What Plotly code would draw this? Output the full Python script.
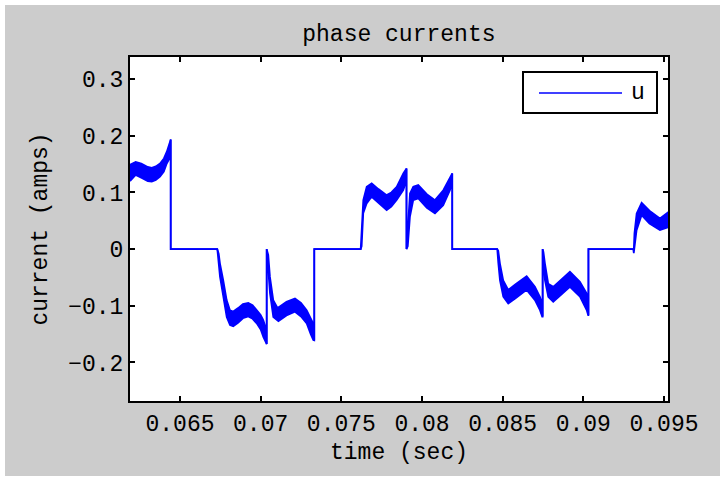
import plotly.graph_objects as go

# ---- data (time in s, current in A) ----
# upper / lower envelope of the PWM-ripple band; equal where the trace is a single line
t = [
    0.06190, 0.06225, 0.06260, 0.06300, 0.06325, 0.06350, 0.06376, 0.06400, 0.06418, 0.06435, 0.064423,
    0.064423, 0.067311,
    0.067400, 0.067478, 0.067683, 0.067893, 0.068098, 0.068300, 0.068600, 0.068900, 0.069232, 0.069500,
    0.069753, 0.070000, 0.070162, 0.070330, 0.070373,
    0.070373, 0.070472, 0.070577, 0.070782, 0.071011, 0.071100, 0.071600, 0.072127, 0.072500, 0.072852,
    0.073100, 0.073261, 0.073323,
    0.073323, 0.076199,
    0.076260, 0.076360, 0.076571, 0.076881, 0.077300, 0.077810, 0.078100, 0.078430, 0.078839, 0.079000,
    0.079040,
    0.079040, 0.079120, 0.079254, 0.079459, 0.079769, 0.080300, 0.080804, 0.081318, 0.081734, 0.081839,
    0.081876,
    0.081876, 0.084665,
    0.084730, 0.084833, 0.085037, 0.085347, 0.085800, 0.086488, 0.087002, 0.087312, 0.087450, 0.087479,
    0.087479, 0.087530, 0.087622, 0.087826, 0.088136, 0.088600, 0.089171, 0.089791, 0.090206, 0.090300,
    0.090318,
    0.090318, 0.093094,
    0.093130, 0.093169, 0.093305, 0.093615, 0.094100, 0.094749, 0.095300,
]
i_hi = [
    0.149, 0.154, 0.151, 0.145, 0.1435, 0.146, 0.151, 0.160, 0.172, 0.186, 0.1935,
    0.0, 0.0,
    -0.008, -0.025, -0.055, -0.090, -0.108, -0.110, -0.104, -0.097, -0.0947, -0.099,
    -0.1076, -0.116, -0.125, -0.140, -0.1676,
    0.0, -0.010, -0.049, -0.090, -0.102, -0.103, -0.093, -0.087, -0.095, -0.1076,
    -0.122, -0.131, -0.161,
    0.0, 0.0,
    0.037, 0.0865, 0.110, 0.116, 0.106, 0.0953, 0.100, 0.110, 0.1336, 0.1424,
    0.1424,
    0.0, 0.045, 0.098, 0.110, 0.113, 0.097, 0.0865, 0.104, 0.1276, 0.1336,
    0.1336,
    0.0, 0.0,
    -0.003, -0.025, -0.055, -0.072, -0.062, -0.0476, -0.0665, -0.084, -0.095, -0.119,
    0.0, -0.005, -0.025, -0.061, -0.0665, -0.055, -0.040, -0.0577, -0.078, -0.090,
    -0.1165,
    0.0, 0.0,
    0.0, 0.028, 0.063, 0.0817, 0.068, 0.054, 0.066,
]
i_lo = [
    0.120, 0.131, 0.126, 0.120, 0.119, 0.122, 0.128, 0.137, 0.151, 0.160, 0.1935,
    0.0, 0.0,
    -0.025, -0.049, -0.084, -0.120, -0.134, -0.136, -0.130, -0.122, -0.119, -0.123,
    -0.131, -0.142, -0.155, -0.165, -0.1676,
    0.0, -0.045, -0.078, -0.120, -0.125, -0.127, -0.117, -0.1106, -0.119, -0.131,
    -0.150, -0.1606, -0.161,
    0.0, 0.0,
    0.005, 0.0635, 0.0806, 0.0923, 0.081, 0.0688, 0.075, 0.0865, 0.104, 0.118,
    0.1424,
    0.0, 0.005, 0.057, 0.0865, 0.0894, 0.073, 0.063, 0.0776, 0.104, 0.115,
    0.1336,
    0.0, 0.0,
    -0.025, -0.055, -0.084, -0.096, -0.087, -0.072, -0.090, -0.1076, -0.119, -0.119,
    0.0, -0.030, -0.055, -0.084, -0.093, -0.081, -0.0665, -0.084, -0.1076, -0.1165,
    -0.1165,
    0.0, 0.0,
    -0.007, 0.0035, 0.0335, 0.060, 0.045, 0.0335, 0.039,
]

series_name = "u"
x_tick_vals = [0.065, 0.07, 0.075, 0.08, 0.085, 0.09, 0.095]
x_tick_text = ["0.065", "0.07", "0.075", "0.08", "0.085", "0.09", "0.095"]
y_tick_vals = [-0.2, -0.1, 0.0, 0.1, 0.2, 0.3]
y_tick_text = ["\u22120.2", "\u22120.1", "0", "0.1", "0.2", "0.3"]
x_range = [0.0619, 0.09525]
y_range = [-0.268, 0.339]

BLUE = "#0000ff"
GREY = "#cccccc"
FONT = "Liberation Mono"
FS = 23

fig = go.Figure()
fig.add_trace(go.Scatter(x=t, y=i_lo, mode="lines", name=series_name,
                         line=dict(color=BLUE, width=1.7), showlegend=False,
                         hoverinfo="skip"))
fig.add_trace(go.Scatter(x=t, y=i_hi, mode="lines", name=series_name,
                         line=dict(color=BLUE, width=1.7), fill="tonexty",
                         fillcolor=BLUE, showlegend=False, hoverinfo="skip"))

axis_common = dict(showgrid=False, zeroline=False, showline=True, mirror="ticks",
                   linecolor="black", linewidth=2, ticks="inside", ticklen=5,
                   tickwidth=2, tickcolor="black",
                   tickfont=dict(family=FONT, size=FS, color="black"))

fig.update_layout(
    width=720, height=482,
    paper_bgcolor=GREY, plot_bgcolor="white",
    margin=dict(l=130, r=52, t=57, b=81),
    title=dict(text="phase currents", x=0.554, xanchor="center", y=1 - 33 / 482,
               yanchor="middle", yref="container",
               font=dict(family=FONT, size=FS, color="black")),
    xaxis=dict(range=x_range, tickvals=x_tick_vals, ticktext=x_tick_text,
               title=dict(text="time (sec)", standoff=6,
                          font=dict(family=FONT, size=FS, color="black")),
               **axis_common),
    yaxis=dict(range=y_range, tickvals=y_tick_vals, ticktext=y_tick_text,
               title=dict(text="current (amps)", standoff=14,
                          font=dict(family=FONT, size=FS, color="black")),
               **axis_common),
    showlegend=False,
)

# legend box drawn by hand (line sample is much longer than plotly's)
W, H = 538.0, 344.0
def px(xp):
    return (xp - 130) / W
def py(yp):
    return (401 - yp) / H

fig.add_shape(type="rect", xref="paper", yref="paper",
              x0=px(523), x1=px(657), y0=py(113), y1=py(72),
              line=dict(color="black", width=2), fillcolor="white", layer="above")
fig.add_shape(type="line", xref="paper", yref="paper",
              x0=px(539), x1=px(622), y0=py(93), y1=py(93),
              line=dict(color=BLUE, width=1.5), layer="above")
fig.add_annotation(xref="paper", yref="paper", x=px(638), y=py(93),
                   text=series_name, showarrow=False, xanchor="center", yanchor="middle",
                   font=dict(family=FONT, size=FS, color="black"))

# white outer margin of the screenshot
for (a, b, c, d) in [(0, 720, 0, 5), (0, 5, 0, 482), (0, 720, 476, 482)]:
    fig.add_shape(type="rect", xref="paper", yref="paper",
                  x0=px(a), x1=px(b), y0=py(d), y1=py(c),
                  line=dict(width=0), fillcolor="white", layer="below")

fig.write_html("out.html", config={"displayModeBar": False},
               post_script="document.body.style.margin='0';document.body.style.padding='0';")
